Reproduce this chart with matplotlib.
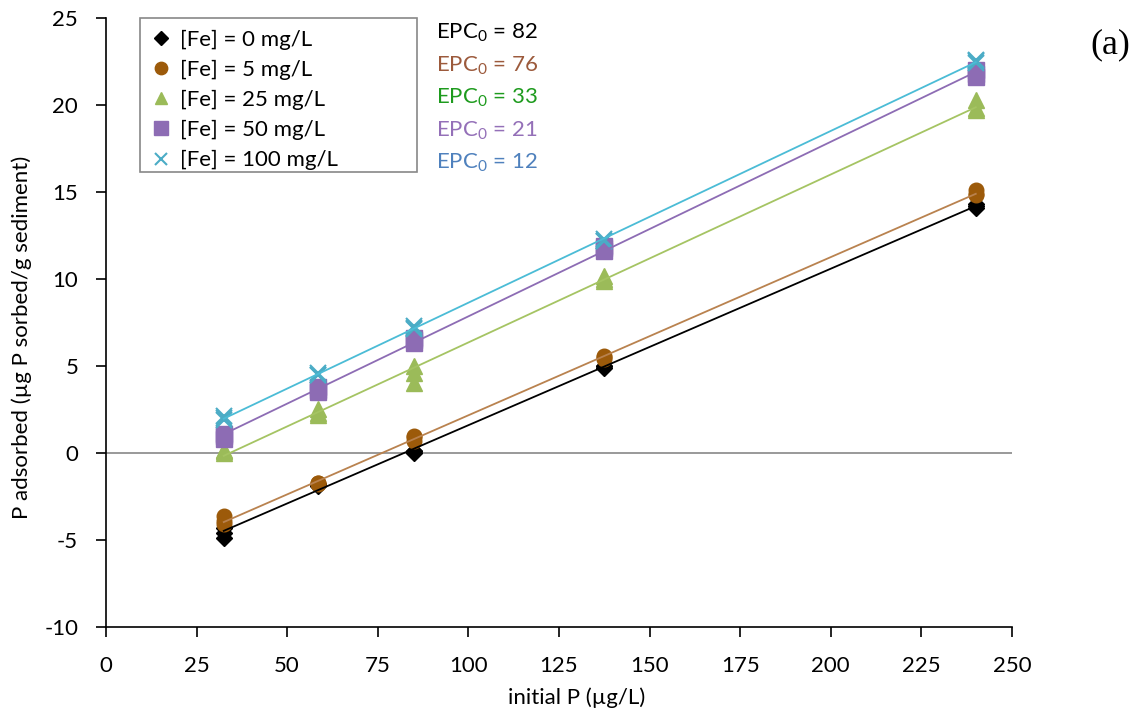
import matplotlib.pyplot as plt
from matplotlib.patches import Rectangle
import numpy as np

plt.rcParams['font.family'] = ['Lato', 'DejaVu Sans']
plt.rcParams['axes.unicode_minus'] = False

# replicate measurements at each initial P level
initial_p = [32.5, 58.5, 85, 137.5, 240]

fe_0 = [[-4.9, -4.6, -4.3], [-1.9, -1.8, -1.8], [0.0, 0.1, 0.1], [4.9, 5.0, 5.0], [14.1, 14.2, 14.3]]
fe_5 = [[-4.1, -3.9, -3.6], [-1.8, -1.7, -1.7], [0.7, 0.9, 1.0], [5.4, 5.5, 5.6], [14.8, 14.9, 15.1]]
fe_25 = [[0.0, 0.1, 0.2], [2.2, 2.3, 2.5], [4.0, 4.6, 5.0], [9.9, 10.0, 10.2], [19.7, 19.8, 20.3]]
fe_50 = [[0.8, 1.0, 1.1], [3.5, 3.6, 3.8], [6.3, 6.5, 6.6], [11.6, 11.8, 11.9], [21.6, 21.8, 22.0]]
fe_100 = [[1.9, 2.0, 2.1], [4.5, 4.5, 4.6], [7.1, 7.2, 7.3], [12.2, 12.2, 12.3], [22.4, 22.5, 22.6]]

labels = ["[Fe] = 0 mg/L", "[Fe] = 5 mg/L", "[Fe] = 25 mg/L", "[Fe] = 50 mg/L", "[Fe] = 100 mg/L"]
epc_values = [82, 76, 33, 21, 12]

series = [fe_0, fe_5, fe_25, fe_50, fe_100]
markers = ["D", "o", "^", "s", "x"]
marker_colors = ["#000000", "#9C5A0A", "#9BBB59", "#8D6CB4", "#4BACC6"]
line_colors = ["#000000", "#B9824F", "#A5C463", "#8D6CB4", "#4BBCD6"]
epc_colors = ["#000000", "#9C5A3C", "#1E9B1E", "#9470B8", "#4F81BD"]
marker_sizes = [8.5, 10.5, 11, 11.5, 11]

FS = 16

fig = plt.figure(figsize=(11.43, 7.13), dpi=100)
ax = fig.add_axes([0.0927, 0.1206, 0.7927, 0.8542])

ax.axhline(0, color="#888888", linewidth=1.2, zorder=1)

for data, lab, mk, mc, lc, ms in zip(series, labels, markers, marker_colors, line_colors, marker_sizes):
    xs = np.repeat(initial_p, [len(v) for v in data])
    ys = np.concatenate(data)
    if mk == "x":
        ax.plot(xs, ys, linestyle="none", marker=mk, color=mc, markersize=ms,
                markeredgewidth=1.5, label=lab, zorder=3)
    else:
        ax.plot(xs, ys, linestyle="none", marker=mk, color=mc, markersize=ms,
                markeredgecolor=mc, label=lab, zorder=3)
    slope, icpt = np.polyfit(xs, ys, 1)
    xl = np.array([initial_p[0], initial_p[-1]])
    ax.plot(xl, slope * xl + icpt, color=lc, linewidth=1.3, zorder=4)

ax.set_xlim(0, 250)
ax.set_ylim(-10, 25)
ax.set_xticks(np.arange(0, 251, 25))
ax.set_yticks(np.arange(-10, 26, 5))
ax.tick_params(direction="out", length=7, labelsize=FS, width=1.2)
ax.tick_params(axis="x", pad=14)
ax.tick_params(axis="y", pad=13)
ax.spines["top"].set_visible(False)
ax.spines["right"].set_visible(False)
ax.spines["left"].set_linewidth(1.2)
ax.spines["bottom"].set_linewidth(1.2)

ax.set_xlabel("initial P (µg/L)", fontsize=FS)
ax.set_ylabel("P adsorbed (µg P sorbed/g sediment)", fontsize=FS)
ax.xaxis.set_label_coords(0.52, -0.0985)
ax.yaxis.set_label_coords(-0.082, 0.476)

leg = ax.legend(loc="upper left", bbox_to_anchor=(0.029, 1.01), fontsize=FS, frameon=False,
                handletextpad=0.35, labelspacing=0.45, borderpad=0.3, handlelength=1.0,
                markerscale=0.85)

# legend frame (wider than its entries, as in the original)
fig.patches.append(Rectangle((140 / 1143, 1 - 172 / 713), 277 / 1143, 154 / 713,
                             transform=fig.transFigure, fill=False,
                             edgecolor="#888888", linewidth=1.2))

for i, (ev, ec) in enumerate(zip(epc_values, epc_colors)):
    fig.text(436 / 1143, 1 - (33 + i * 32.5) / 713, f"EPC$_\\mathregular{{0}}$ = {ev}", color=ec,
             fontsize=FS, va="center", ha="left")

fig.text(1110 / 1143, 1 - 45 / 713, "(a)", fontsize=26, family="Liberation Serif",
         ha="center", va="center")

fig.savefig("out.png", dpi=100)
